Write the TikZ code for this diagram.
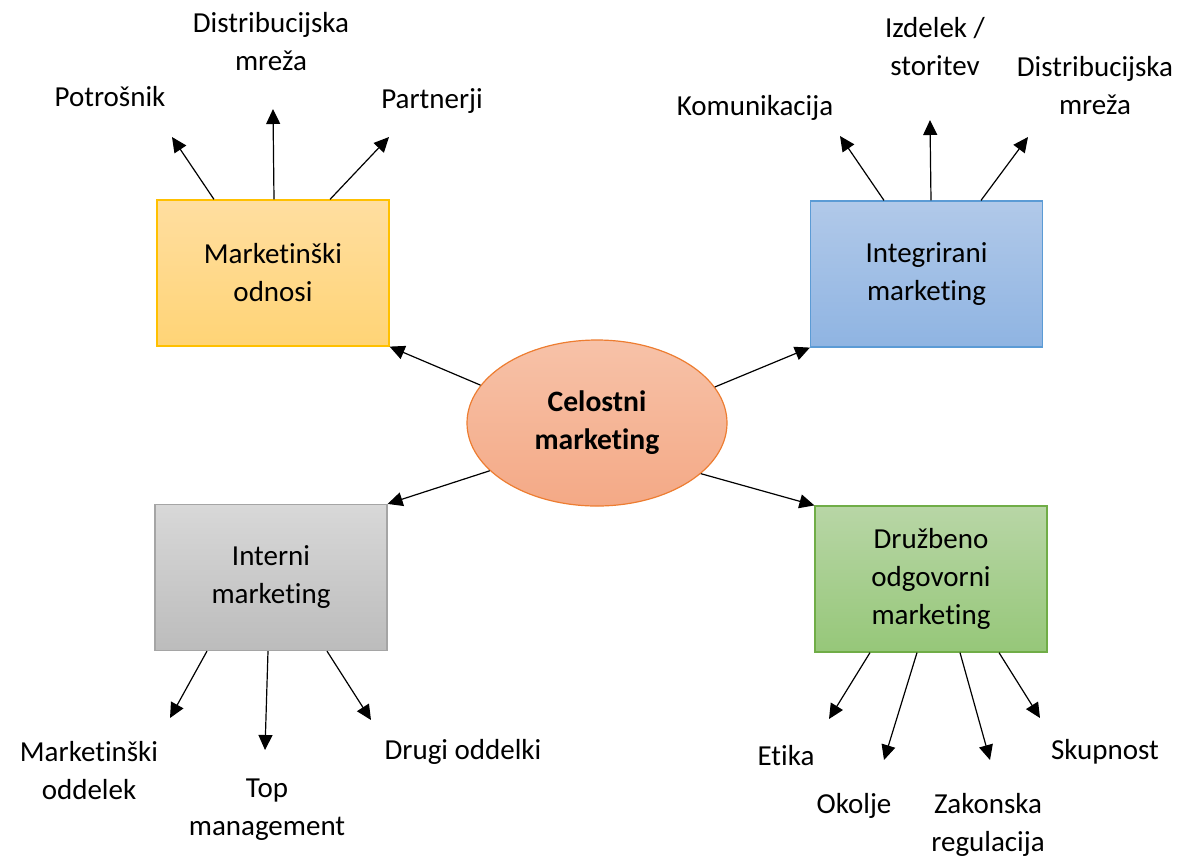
\documentclass[tikz,border=0pt]{standalone}
\usepackage{fontspec}
\setmainfont{Carlito}[Ligatures={NoCommon,NoRare}]
\usepackage{tikz}
\usetikzlibrary{shapes,arrows.meta,positioning}
\definecolor{orangeline}{RGB}{255, 192, 0}
\definecolor{orangetop}{RGB}{255, 222, 160}
\definecolor{orangebot}{RGB}{255, 212, 118}
\definecolor{blueline}{RGB}{91, 155, 213}
\definecolor{bluetop}{RGB}{177, 201, 233}
\definecolor{bluebot}{RGB}{143, 180, 226}
\definecolor{grayline}{RGB}{165, 165, 165}
\definecolor{graytop}{RGB}{216, 216, 216}
\definecolor{graybot}{RGB}{188, 188, 188}
\definecolor{greenline}{RGB}{112, 173, 71}
\definecolor{greentop}{RGB}{184, 214, 166}
\definecolor{greenbot}{RGB}{150, 199, 121}
\definecolor{salmonline}{RGB}{237, 125, 49}
\definecolor{salmontop}{RGB}{247, 194, 168}
\definecolor{salmonbot}{RGB}{244, 169, 134}
\tikzstyle{box} = [rectangle, line width=0.6pt, minimum width=116pt, minimum height=73pt, text centered, align=center, font=\fontsize{14.5}{19}\selectfont]
\tikzstyle{core} = [ellipse, draw=salmonline, line width=0.6pt, top color=salmontop, bottom color=salmonbot, minimum width=130pt, minimum height=83pt, align=center, font=\bfseries\fontsize{14.8}{19}\selectfont]
\tikzstyle{leaf} = [align=center, font=\fontsize{14.5}{19}\selectfont]
\tikzstyle{tedge} = [draw, line width=0.6pt, -{Triangle[length=7.5pt,width=7pt]}]

\begin{document}
\begin{tikzpicture}[x=0.5pt, y=-0.5pt]
\useasboundingbox (0,0) rectangle (1184,859);

% centre and four areas =============================
\node[core] (cel) at (597,423) {Celostni\\marketing};
\node[box, draw=orangeline, top color=orangetop, bottom color=orangebot] (odn) at (273,273) {Marketinški\\odnosi};
\node[box, draw=blueline, top color=bluetop, bottom color=bluebot] (int) at (926.5,274) {Integrirani\\marketing};
\node[box, draw=grayline, top color=graytop, bottom color=graybot] (intern) at (271,577.5) {Interni\\marketing};
\node[box, draw=greenline, top color=greentop, bottom color=greenbot] (druz) at (931,579) {Družbeno\\odgovorni\\marketing};

% leaves
\node[leaf] (potr) at (110,97) {Potrošnik};
\node[leaf] (dist1) at (271,42) {Distribucijska\\mreža};
\node[leaf] (part) at (432,101) {Partnerji};
\node[leaf] (kom) at (755,108) {Komunikacija};
\node[leaf] (izd) at (935,47) {Izdelek /\\storitev};
\node[leaf] (dist2) at (1095,86) {Distribucijska\\mreža};
\node[leaf] (modd) at (89,771) {Marketinški\\oddelek};
\node[leaf] (top) at (267,810) {Top\\management};
\node[leaf] (drugi) at (463,752) {Drugi oddelki};
\node[leaf] (etika) at (786,756) {Etika};
\node[leaf] (okolje) at (854,806) {Okolje};
\node[leaf] (zak) at (988,825) {Zakonska\\regulacija};
\node[leaf] (skup) at (1105,752) {Skupnost};

% arrow tips
\coordinate (tpotr) at (172,137);
\coordinate (tdist1) at (273,109);
\coordinate (tpart) at (389,137);
\coordinate (tkom) at (840,136);
\coordinate (tizd) at (930,120);
\coordinate (tdist2) at (1028,137);
\coordinate (tmodd) at (170,718);
\coordinate (ttop) at (265,750);
\coordinate (tdrugi) at (371,720);
\coordinate (tetika) at (829,719);
\coordinate (tokolje) at (884,760);
\coordinate (tzak) at (990,760);
\coordinate (tskup) at (1040,718);

% edges
\path[tedge] (cel.162) -- (odn.south east);
\path[tedge] (cel.17) -- (int.south west);
\path[tedge] (cel.204) -- (intern.north east);
\path[tedge] (cel.334) -- (druz.north west);

\path[tedge] ([xshift=-29.5pt]odn.north) -- (tpotr);
\path[tedge] ([xshift=0.5pt]odn.north) -- (tdist1);
\path[tedge] ([xshift=28.5pt]odn.north) -- (tpart);
\path[tedge] ([xshift=-21.25pt]int.north) -- (tkom);
\path[tedge] ([xshift=2.25pt]int.north) -- (tizd);
\path[tedge] ([xshift=27.25pt]int.north) -- (tdist2);
\path[tedge] ([xshift=-32pt]intern.south) -- (tmodd);
\path[tedge] ([xshift=-1.5pt]intern.south) -- (ttop);
\path[tedge] ([xshift=28pt]intern.south) -- (tdrugi);
\path[tedge] ([xshift=-30.5pt]druz.south) -- (tetika);
\path[tedge] ([xshift=-7pt]druz.south) -- (tokolje);
\path[tedge] ([xshift=14.5pt]druz.south) -- (tzak);
\path[tedge] ([xshift=34pt]druz.south) -- (tskup);

\end{tikzpicture}
\end{document}
